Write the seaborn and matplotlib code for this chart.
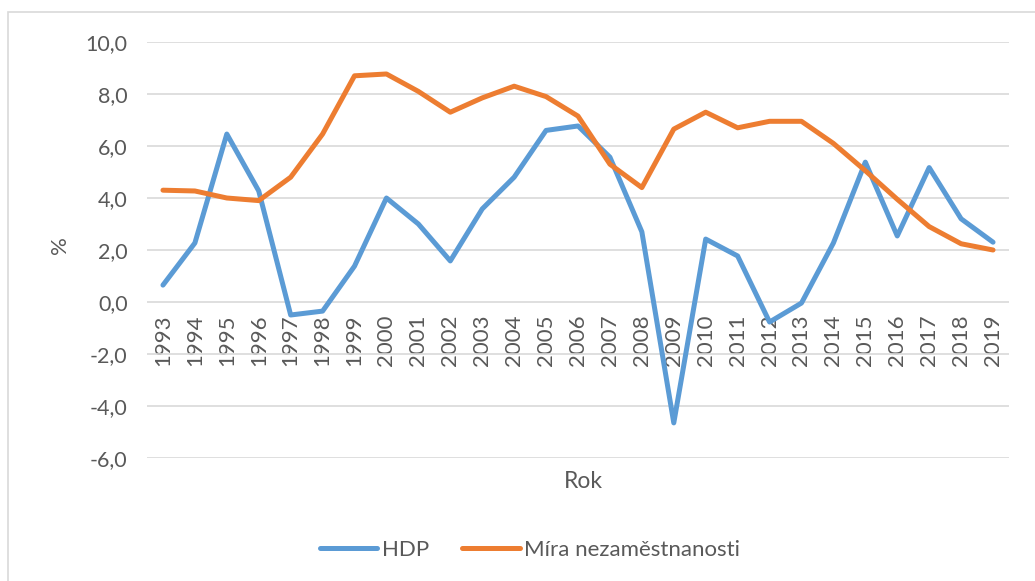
import matplotlib
matplotlib.use("Agg")
import matplotlib.pyplot as plt
import seaborn as sns
import pandas as pd
from matplotlib.patches import Rectangle
from matplotlib.lines import Line2D

years = list(range(1993, 2020))
hdp = [0.65, 2.27, 6.46, 4.27, -0.5, -0.35, 1.38, 4.0, 3.0, 1.58, 3.58, 4.8, 6.6, 6.77,
       5.57, 2.7, -4.65, 2.42, 1.77, -0.77, -0.04, 2.27, 5.38, 2.54, 5.17, 3.2, 2.3]
nezam = [4.3, 4.27, 4.0, 3.9, 4.8, 6.46, 8.7, 8.77, 8.1, 7.3, 7.85, 8.3, 7.9, 7.15,
         5.3, 4.4, 6.65, 7.3, 6.7, 6.95, 6.95, 6.1, 5.05, 3.95, 2.9, 2.24, 2.0]
series_names = ["HDP", "Míra nezaměstnanosti"]
colors = ["#5B9BD5", "#ED7D31"]
yticks = [-6, -4, -2, 0, 2, 4, 6, 8, 10]

sns.set_style("white")
plt.rcParams['font.family'] = ['Lato', 'DejaVu Sans']

df = pd.DataFrame({
    "idx": list(range(len(years))) * 2,
    "value": hdp + nezam,
    "serie": [series_names[0]] * len(years) + [series_names[1]] * len(years),
})

fig = plt.figure(figsize=(10.35, 5.81), dpi=100)
fig.patches.append(Rectangle((8/1035, -0.1), 1.2, 1 - 12/581 + 0.1, transform=fig.transFigure,
                             fill=False, edgecolor="#D9D9D9", linewidth=1.2))
ax = fig.add_axes([147/1035, 1 - 458/581, (1009 - 147)/1035, (458 - 42)/581])

sns.lineplot(data=df, x="idx", y="value", hue="serie", palette=colors, linewidth=3.6,
             ax=ax, legend=False, solid_capstyle="round", solid_joinstyle="round")

ax.spines['bottom'].set_position(('data', 0))
for s in ax.spines.values():
    s.set_visible(False)
ax.set_xlim(-0.5, len(years) - 0.5)
ax.set_ylim(-6, 10)
ax.set_yticks(yticks)
ax.set_yticklabels([f"{v:.1f}".replace(".", ",") for v in yticks], fontsize=15.5, color="#595959")
ax.set_xticks(range(len(years)))
ax.set_xticklabels([str(y) for y in years], rotation=90, fontsize=16, color="#595959")
ax.tick_params(axis='both', length=0)
ax.tick_params(axis='x', pad=9)
ax.tick_params(axis='y', pad=14)
ax.yaxis.grid(True, color="#D9D9D9", linewidth=1.2)
ax.xaxis.grid(False)
ax.set_axisbelow(True)
ax.set_xlabel("")
ax.set_ylabel("")

fig.text(583/1035, 1 - 481/581, "Rok", ha="center", va="center", fontsize=16.5, color="#595959")
fig.text(60/1035, 1 - 245/581, "%", ha="center", va="center", rotation=90, fontsize=16, color="#595959")

handles = [Line2D([0], [0], color=c, linewidth=3.6, solid_capstyle="round") for c in colors]
leg = fig.legend(handles, series_names, loc="center", bbox_to_anchor=(530/1035, 1 - 550/581),
                 ncol=2, frameon=False, fontsize=16, handlelength=2.6, handletextpad=0.2,
                 columnspacing=1.5, labelcolor="#595959")

fig.savefig("out.png", dpi=100)
